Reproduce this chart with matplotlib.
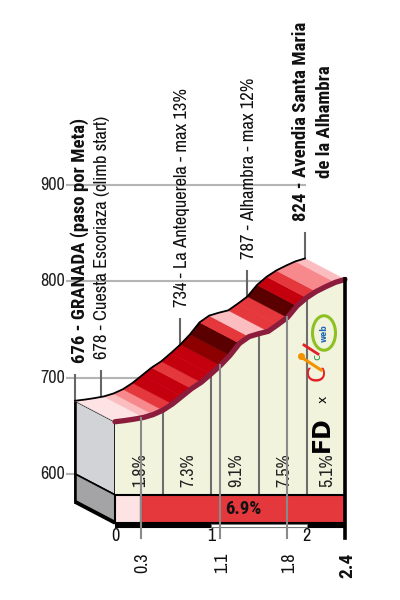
import matplotlib
matplotlib.use("Agg")
import matplotlib.pyplot as plt
from matplotlib.patches import Polygon, Rectangle, Circle
import numpy as np

# profile read every 100 m
dist = [0.0, 0.1, 0.2, 0.3, 0.4, 0.5, 0.6, 0.7, 0.8, 0.9, 1.0, 1.1, 1.2,
        1.3, 1.4, 1.5, 1.6, 1.7, 1.8, 1.9, 2.0, 2.1, 2.2, 2.3, 2.4]
elev = [676.0, 677.2, 678.7, 680.5, 683.5, 688.0, 694.5, 702.5, 710.5, 717.0,
        725.5, 734.5, 745.0, 757.5, 764.5, 767.5, 770.0, 777.0, 784.4, 796.4,
        804.9, 811.4, 816.4, 820.9, 823.9]

# waypoints
wp_km = [0.0, 0.27, 1.1, 1.8, 2.4]
wp_label = ["676 - GRANADA (paso por Meta)",
            "678 - Cuesta Escoriaza (climb start)",
            "734 - La Antequerela - max 13%",
            "787 - Alhambra - max 12%",
            "824 - Avendia Santa Maria\nde la Alhambra"]
wp_bold = [True, False, False, False, True]
wp_dist_label = ["", "0.3", "1.1", "1.8", "2.4"]

# average gradient per 500 m
seg_km = [0.0, 0.5, 1.0, 1.5, 2.0, 2.4]
seg_grade = [1.8, 7.3, 9.1, 7.5, 5.1]

# climb summary strip
climb_start, climb_end = 0.27, 2.4
climb_elev = (678, 824)

yticks = [600, 700, 800, 900]
xticks = [0, 1, 2]

grade_bins = [2, 3.5, 5.5, 7.5, 9.5, 11.5]
grade_colors = ["#fde3e4", "#fbbdc0", "#f7888c", "#e5383d", "#c4000f", "#8c0000", "#5a0000"]

plt.rcParams["font.family"] = ["Archivo Narrow", "DejaVu Sans"]
BOLD = ["Roboto Condensed", "DejaVu Sans"]

# oblique depth of the 3d block (km, m)
dx, dy = 0.4175, -21.8
base_top, base_bot = 600, 571
axis_bar = 4.7


def prof(k):
    return np.interp(k, dist, elev)


def gcol(g):
    return grade_colors[np.digitize(g, grade_bins)]


fig = plt.figure(figsize=(4, 6), dpi=100)
ax = fig.add_axes([0, 0, 1, 1])
ax.set_xlim(-0.783, 3.3925)
ax.set_ylim(468.9, 1092.6)
ax.axis("off")

d = np.array(dist)
e = np.array(elev)
k0, k1 = d[0], d[-1]

# grid + y labels
for t in yticks:
    ax.plot([-0.08, k1], [t, t], color="#b4b4b4", lw=1.5, zorder=1)
    ax.text(-0.104, t, str(t), ha="right", va="center", fontsize=13, color="#222222")

# side face
ax.add_patch(Polygon([(k0, e[0]), (k0 + dx, e[0] + dy), (k0 + dx, base_top + dy), (k0, base_top)],
                     closed=True, fc="#d2d3d7", ec="black", lw=1.2, zorder=2))
ax.add_patch(Polygon([(k0, base_top), (k0 + dx, base_top + dy), (k0 + dx, base_bot + dy), (k0, base_bot)],
                     closed=True, fc="#a4a4a7", ec="black", lw=1.2, zorder=2))
ax.plot([k0, k0 + dx], [base_bot, base_bot + dy], color="black", lw=2.8, zorder=3, solid_capstyle="butt")
ax.plot([k0, k0], [base_bot, e[0]], color="black", lw=1.8, zorder=3)

# front face
front = list(zip(d + dx, e + dy)) + [(k1 + dx, base_top + dy), (k0 + dx, base_top + dy)]
ax.add_patch(Polygon(front, closed=True, fc="#f1f3dd", ec="none", zorder=2))

# 500 m segment lines and gradients
for i, g in enumerate(seg_grade):
    a, b = seg_km[i], seg_km[i + 1]
    if i > 0:
        ax.plot([a + dx, a + dx], [base_top + dy, prof(a) + dy], color="#6e6e6e", lw=1.5, zorder=3)
    ax.text((a + b) / 2 + dx, base_top + dy + 8, f"{g:.1f}%", rotation=90, rotation_mode="anchor",
            ha="left", va="center_baseline", fontsize=13, color="#222222", zorder=6)

# top ribbon coloured by gradient of each 100 m
for i in range(len(d) - 1):
    g = (e[i + 1] - e[i]) / ((d[i + 1] - d[i]) * 10)
    quad = [(d[i], e[i]), (d[i + 1], e[i + 1]), (d[i + 1] + dx, e[i + 1] + dy), (d[i] + dx, e[i] + dy)]
    ax.add_patch(Polygon(quad, closed=True, fc=gcol(g), ec=gcol(g), lw=0.4, zorder=4))
ax.plot(d, e, color="black", lw=1.3, zorder=5)
ax.plot(d + dx, e + dy, color="#8c1c3b", lw=3.8, zorder=5, solid_capstyle="round")

# climb summary strip
avg = (climb_elev[1] - climb_elev[0]) / ((climb_end - climb_start) * 10)
app = (climb_elev[0] - e[0]) / ((climb_start - k0) * 10)
ax.add_patch(Rectangle((k0 + dx, base_bot + dy), climb_start - k0, base_top - base_bot,
                       fc=gcol(app), ec="black", lw=1.5, zorder=5))
ax.add_patch(Rectangle((climb_start + dx, base_bot + dy), climb_end - climb_start, base_top - base_bot,
                       fc=gcol(avg), ec="black", lw=1.5, zorder=5))
ax.text((climb_start + climb_end) / 2 + dx, (base_top + base_bot) / 2 + dy, f"{avg:.1f}%",
        ha="center", va="center", fontsize=13.5, fontweight="bold", family=BOLD,
        color="#111111", zorder=7)

# distance bar
ax.add_patch(Rectangle((k0 + dx, base_bot + dy - axis_bar), k1 - k0, axis_bar,
                       fc="black", ec="black", lw=0.8, zorder=5))
for t in xticks:
    if t % 2 == 1:
        ax.add_patch(Rectangle((t + dx, base_bot + dy - axis_bar + 0.4), 1, axis_bar - 1.8,
                               fc="white", ec="#777777", lw=0.6, zorder=5))
    ax.text(t + dx, base_bot + dy - axis_bar - 9, str(t), ha="center", va="center",
            fontsize=13, color="#111111", zorder=6)

# waypoints
for k, lab, bold, dl in zip(wp_km, wp_label, wp_bold, wp_dist_label):
    p = prof(k)
    ax.plot([k, k], [p, p + 27], color="#666666", lw=1.5, zorder=3)
    if bold:
        ax.text(k + 0.03, p + 39, lab, rotation=90, rotation_mode="anchor", ha="left",
                va="center_baseline", fontsize=13.5, fontweight="bold", family=BOLD,
                color="#111111", linespacing=1.45, multialignment="center", zorder=6)
    else:
        ax.text(k, p + 39, lab, rotation=90, rotation_mode="anchor", ha="left",
                va="center_baseline", fontsize=13.3, color="#111111", zorder=6)
    if k == k1:
        ax.plot([k + dx, k + dx], [p + dy, 533.4], color="black", lw=2.6, zorder=6)
    elif k > k0:
        ax.plot([k + dx, k + dx], [p + dy, 533.4], color="#8a8a8a", lw=1.5, zorder=6)
    if dl:
        if k == k1:
            ax.text(k + dx, 517.8, dl, rotation=90, rotation_mode="anchor", ha="right",
                    va="center_baseline", fontsize=14, fontweight="bold", family=BOLD,
                    color="#111111", zorder=6)
        else:
            ax.text(k + dx, 517.8, dl, rotation=90, rotation_mode="anchor", ha="right",
                    va="center_baseline", fontsize=13, color="#111111", zorder=6)

# logo
tr = ax.transAxes
ax.text(322 / 400, 1 - 434 / 600, "FD", transform=tr, rotation=90, ha="center", va="center",
        fontsize=17, fontweight="bold", family=["DejaVu Sans"], color="black", zorder=7)
ax.text(323 / 400, 1 - 399 / 600, "x", transform=tr, rotation=90, ha="center", va="center",
        fontsize=9, family=["DejaVu Sans"], color="black", zorder=7)
ax.text(318 / 400, 1 - 373 / 600, "C", transform=tr, rotation=90, ha="center", va="center",
        fontsize=17, color="#e31e24", family=["DejaVu Sans"], zorder=7)
ax.text(317 / 400, 1 - 357 / 600, "c", transform=tr, rotation=90, ha="center", va="center",
        fontsize=8, color="#1a9a3c", family=["DejaVu Sans"], zorder=7)
ax.plot([301 / 400, 321 / 400], [1 - 357 / 600, 1 - 370 / 600], transform=tr, color="#f39200",
        lw=2.2, zorder=7)
ax.plot([301 / 400], [1 - 356 / 600], transform=tr, marker="o", ms=4, color="#f39200", zorder=7)
ax.plot([304 / 400, 318 / 400], [1 - 345 / 600, 1 - 354 / 600], transform=tr, color="#e31e24",
        lw=2.0, zorder=7)
ax.add_patch(Circle((324 / 400, 1 - 333 / 600), 11.5 / 400, transform=tr, fc="none",
                    ec="#8dc021", lw=2.2, zorder=7))
ax.text(324 / 400, 1 - 333 / 600, "web", transform=tr, rotation=90, ha="center", va="center",
        fontsize=5.5, fontweight="bold", color="#1e64b4", family=["DejaVu Sans"], zorder=7)

fig.savefig("out.png", dpi=100)
